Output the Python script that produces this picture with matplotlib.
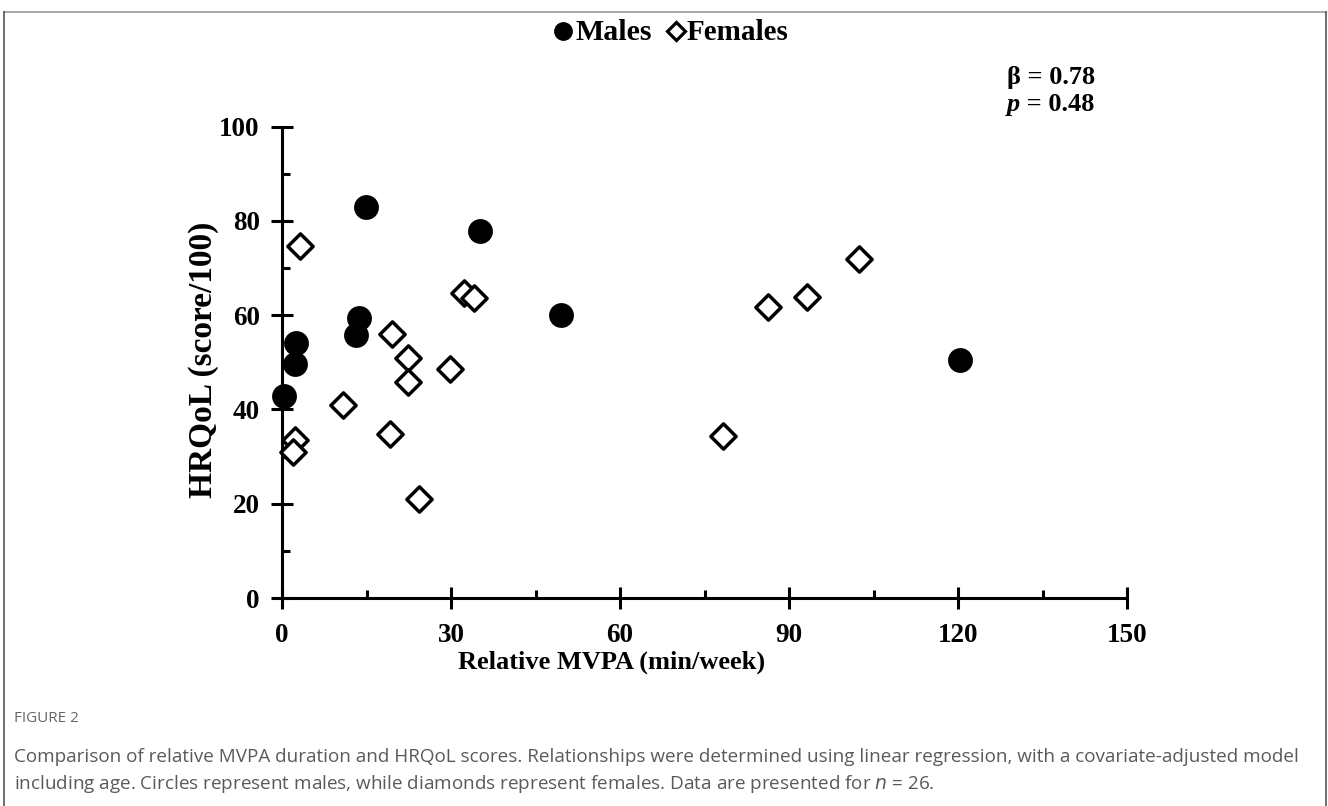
import matplotlib
matplotlib.use("Agg")
import matplotlib.pyplot as plt
from matplotlib.lines import Line2D
from matplotlib.ticker import MultipleLocator

# Data
male_x = [14.9, 35.2, 49.5, 13.7, 13.1, 2.4, 2.3, 0.4, 120.4]
male_y = [83.0, 77.9, 60.0, 59.4, 55.8, 54.0, 49.6, 42.8, 50.5]
female_x = [3.2, 32.3, 34.1, 19.5, 22.4, 29.8, 22.4, 10.8, 19.1, 2.3, 2.0, 24.4,
            86.2, 93.2, 102.4, 78.3]
female_y = [74.7, 64.6, 63.6, 56.0, 51.0, 48.6, 45.9, 40.9, 34.7, 33.5, 31.0, 20.9,
            61.8, 63.9, 71.8, 34.3]
x_ticks = [0, 30, 60, 90, 120, 150]
y_ticks = [0, 20, 40, 60, 80, 100]
legend_labels = ["Males", "Females"]

W, H = 1328, 806
fig = plt.figure(figsize=(W / 100, H / 100), dpi=100)
serif = ["Liberation Serif", "DejaVu Serif"]

ax = fig.add_axes([282 / W, 1 - 598 / H, (1127 - 282) / W, (598 - 126.5) / H])
ax.set_xlim(0, 150)
ax.set_ylim(0, 100)

ax.scatter(male_x, male_y, s=320, marker="o", c="black", edgecolors="black",
           linewidths=0, zorder=3, clip_on=False)
ax.scatter(female_x, female_y, s=165, marker="D", facecolors="white",
           edgecolors="black", linewidths=2.5, zorder=3, clip_on=False)

for s in ["top", "right"]:
    ax.spines[s].set_visible(False)
for s in ["left", "bottom"]:
    ax.spines[s].set_linewidth(2.2)

ax.set_xticks(x_ticks)
ax.set_yticks(y_ticks)
ax.xaxis.set_minor_locator(MultipleLocator(15))
ax.yaxis.set_minor_locator(MultipleLocator(10))
ax.tick_params(which="major", direction="inout", length=16, width=2.2)
ax.tick_params(which="minor", direction="in", length=6, width=2.2)
ax.tick_params(axis="x", which="major", pad=10)
ax.tick_params(axis="y", which="major", pad=8)
ax.set_xticklabels([str(v) for v in x_ticks], fontfamily=serif,
                   fontweight="bold", fontsize=19.5)
ax.set_yticklabels([str(v) for v in y_ticks], fontfamily=serif,
                   fontweight="bold", fontsize=19.5)

fig.text(612 / W, 1 - 662 / H, "Relative MVPA (min/week)", ha="center",
         va="center", fontfamily=serif, fontweight="bold", fontsize=19)
fig.text(203 / W, 1 - 360 / H, "HRQoL (score/100)", ha="center", va="center",
         rotation=90, fontfamily=serif, fontweight="bold", fontsize=24)

fig.text(1007 / W, 1 - 84 / H, "β = 0.78", ha="left", va="baseline",
         fontfamily=serif, fontweight="bold", fontsize=19)
fig.text(1007 / W, 1 - 111 / H, "p", ha="left", va="baseline",
         fontfamily=serif, fontweight="bold", fontstyle="italic", fontsize=19)
fig.text(1020 / W, 1 - 111 / H, " = 0.48", ha="left", va="baseline",
         fontfamily=serif, fontweight="bold", fontsize=19)

# Legend (manual, to match spacing)
leg_y = 1 - 31 / H
fig.add_artist(Line2D([563 / W], [leg_y], transform=fig.transFigure, marker="o",
                      ls="none", color="black", markersize=12.5))
fig.text(575 / W, 1 - 40 / H, legend_labels[0], ha="left", va="baseline",
         fontfamily=serif, fontweight="bold", fontsize=21.5)
fig.add_artist(Line2D([676 / W], [leg_y], transform=fig.transFigure, marker="D",
                      ls="none", markerfacecolor="white", markeredgecolor="black",
                      markeredgewidth=2.3, markersize=9.5))
fig.text(687 / W, 1 - 40 / H, legend_labels[1], ha="left", va="baseline",
         fontfamily=serif, fontweight="bold", fontsize=21)

# Page frame
fig.add_artist(Line2D([4 / W, 1326 / W], [1 - 12 / H, 1 - 12 / H],
                      transform=fig.transFigure, color="#aaaaaa", lw=1.5))
fig.add_artist(Line2D([4 / W, 4 / W], [0, 1 - 12 / H],
                      transform=fig.transFigure, color="#555555", lw=1.2))
fig.add_artist(Line2D([1326 / W, 1326 / W], [0, 1 - 12 / H],
                      transform=fig.transFigure, color="#555555", lw=1.2))

cap_font = ["Open Sans", "DejaVu Sans"]
fig.text(14 / W, 1 - 718 / H, "FIGURE 2", ha="left", va="center",
         fontfamily=cap_font, fontsize=11, color="#666666")
fig.text(14 / W, 1 - 757 / H,
         "Comparison of relative MVPA duration and HRQoL scores. Relationships were "
         "determined using linear regression, with a covariate-adjusted model",
         ha="left", va="center", fontfamily=cap_font, fontsize=13.6, color="#5a5a5a")
fig.text(14 / W, 1 - 784 / H,
         "including age. Circles represent males, while diamonds represent females. "
         "Data are presented for $\\it{n}$ = 26.",
         ha="left", va="center", fontfamily=cap_font, fontsize=13.6, color="#5a5a5a")

fig.savefig("out.png", dpi=100)
